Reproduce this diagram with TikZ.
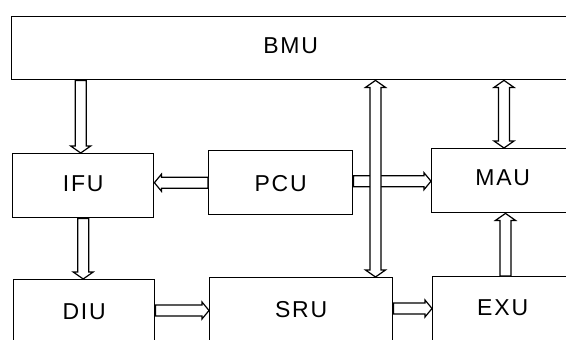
\documentclass[tikz,border=0pt]{standalone}
\usepackage{fontspec}
\setmainfont{Liberation Sans}
\newfontfamily\lblfont[LetterSpace=8]{Liberation Sans}
\usetikzlibrary{calc}
\newcommand{\lift}[2]{\raisebox{#1pt}[0pt][0pt]{#2}}
\tikzset{
  box/.style={draw, line width=1.4pt, inner sep=0pt, anchor=north west,
    font=\lblfont\fontsize{23}{23}\selectfont},
  fat/.style={draw, fill=white, line width=1.2pt, line join=miter,
    to path={let \p1=($(\tikztotarget)!7pt!(\tikztostart)$) in
      ($(\tikztostart)!5.5pt!90:(\tikztotarget)$) -- ($(\p1)!5.5pt!90:(\tikztotarget)$)
      -- ($(\p1)!#1pt!90:(\tikztotarget)$) -- (\tikztotarget)
      -- ($(\p1)!#1pt!-90:(\tikztotarget)$) -- ($(\p1)!5.5pt!-90:(\tikztotarget)$)
      -- ($(\tikztostart)!5.5pt!-90:(\tikztotarget)$) -- cycle}},
  fat/.default=10,
  fatboth/.style={draw, fill=white, line width=1.2pt, line join=miter,
    to path={let \p2=($(\tikztostart)!7pt!(\tikztotarget)$),
                 \p3=($(\tikztotarget)!7pt!(\tikztostart)$) in
      (\tikztostart) -- ($(\p2)!10pt!90:(\tikztotarget)$) -- ($(\p2)!5.5pt!90:(\tikztotarget)$)
      -- ($(\p3)!5.5pt!90:(\tikztotarget)$) -- ($(\p3)!10pt!90:(\tikztotarget)$)
      -- (\tikztotarget)
      -- ($(\p3)!10pt!-90:(\tikztotarget)$) -- ($(\p3)!5.5pt!-90:(\tikztotarget)$)
      -- ($(\p2)!5.5pt!-90:(\tikztotarget)$) -- ($(\p2)!10pt!-90:(\tikztotarget)$)
      -- cycle}}
}
\begin{document}
\begin{tikzpicture}[x=1pt, y=-1pt]
\useasboundingbox (0,0) rectangle (566,340);
\clip (0,0) rectangle (566,340);
\fill[white] (0,0) rectangle (566,340);

\node[box, minimum width=558pt, minimum height=63pt] (BMU) at (11,16) {\lift{-5.5}{BMU}};
\node[box, minimum width=141pt, minimum height=64pt] (IFU) at (12,153) {\lift{-5.5}{IFU}};
\node[box, minimum width=144pt, minimum height=64pt] (PCU) at (208,150) {\lift{-8.5}{PCU}};
\node[box, minimum width=142pt, minimum height=64pt] (MAU) at (431,148) {\lift{-4.5}{MAU}};
\node[box, minimum width=141pt, minimum height=100pt] (DIU) at (13,279) {\lift{10.5}{DIU}};
\node[box, minimum width=183pt, minimum height=100pt] (SRU) at (209,277) {\lift{10}{SRU}};
\node[box, minimum width=140pt, minimum height=100pt] (EXU) at (432,276) {\lift{11.5}{EXU}};

\coordinate (i1) at ($(IFU.north)+(-2.5,0)$);
\coordinate (d1) at ($(DIU.north east)+(0,31.5)$);
\coordinate (p1) at ($(PCU.east)+(0,-1.5)$);
\coordinate (bus) at ($(SRU.north west)+(166.5,0)$);
\coordinate (m1) at ($(MAU.north west)+(73,0)$);
\coordinate (e1) at ($(EXU.north west)+(73.5,0)$);
\coordinate (s1) at ($(SRU.north east)+(0,31.5)$);

\draw[fat] (i1 |- BMU.south) to (i1);
\draw[fat] (IFU.south) to (IFU.south |- DIU.north);
\draw[fat=8.5] (PCU.west) to (PCU.west -| IFU.east);
\draw[fat=8.5] (d1) to (d1 -| SRU.west);
\draw[fat=8.5] (p1) to (p1 -| MAU.west);
\draw[fatboth] (bus |- BMU.south) to (bus);
\draw[fatboth] (m1 |- BMU.south) to (m1);
\draw[fat] (e1) to (e1 |- MAU.south);
\draw[fat=8.5] (s1) to (s1 -| EXU.west);
\end{tikzpicture}
\end{document}
